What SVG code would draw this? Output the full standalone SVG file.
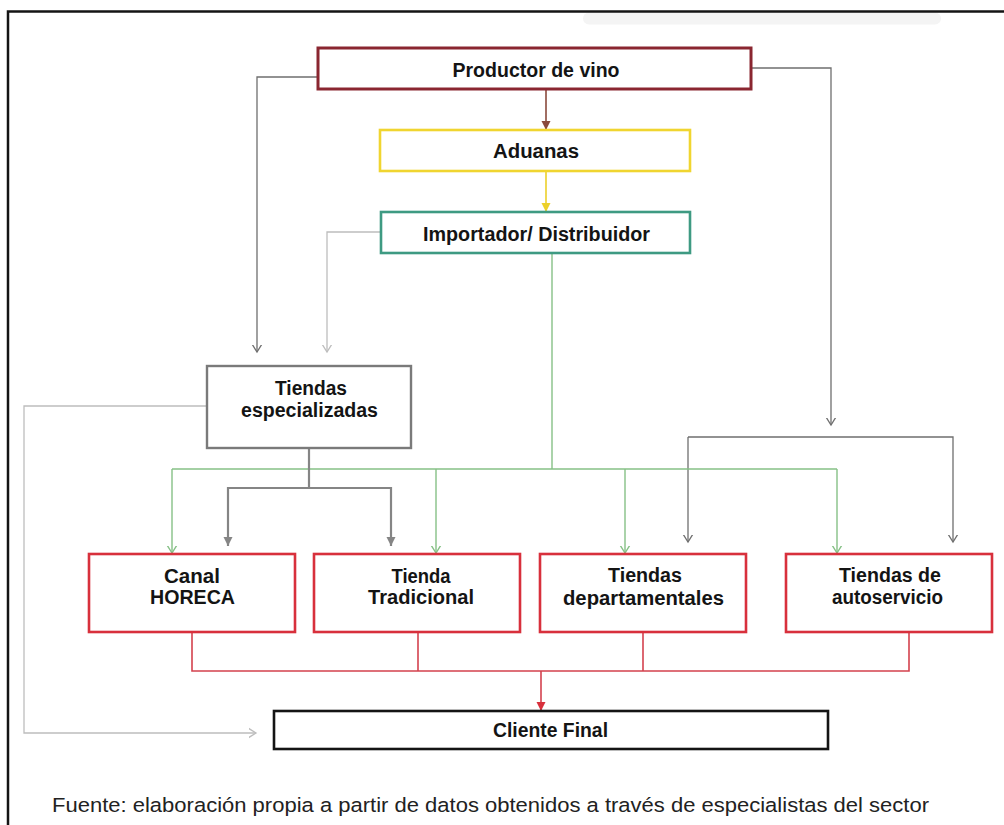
<svg xmlns="http://www.w3.org/2000/svg" width="1004" height="825" viewBox="0 0 1004 825">
<style>
.lbl{font-family:"Liberation Sans",Arial,sans-serif;font-weight:bold;font-size:20px;fill:#141414;text-anchor:middle}
.foot{font-family:"Liberation Sans",Arial,sans-serif;font-size:20.5px;fill:#222}
.box{fill:#fff}
.c{fill:none}
.gray{stroke:#6f6f6f;stroke-width:1.3}
.light{stroke:#bdbdbd;stroke-width:1.3}
.green{stroke:#86c086;stroke-width:1.4}
.red{stroke:#d4424e;stroke-width:1.6}
.thick{stroke:#858585;stroke-width:2.2}
</style>
<defs>
<marker id="oGray" markerUnits="userSpaceOnUse" markerWidth="14" markerHeight="14" viewBox="-7 -7 14 14" refX="0" refY="0" orient="auto"><path d="M-8,-5 L0,0 L-8,5" fill="none" stroke="#6f6f6f" stroke-width="1.3"/></marker>
<marker id="oLight" markerUnits="userSpaceOnUse" markerWidth="14" markerHeight="14" viewBox="-7 -7 14 14" refX="0" refY="0" orient="auto"><path d="M-8,-5 L0,0 L-8,5" fill="none" stroke="#bdbdbd" stroke-width="1.3"/></marker>
<marker id="oGreen" markerUnits="userSpaceOnUse" markerWidth="14" markerHeight="14" viewBox="-7 -7 14 14" refX="0" refY="0" orient="auto"><path d="M-8,-5 L0,0 L-8,5" fill="none" stroke="#86c086" stroke-width="1.4"/></marker>
<marker id="fGray" markerUnits="userSpaceOnUse" markerWidth="14" markerHeight="14" viewBox="-10 -7 14 14" refX="0" refY="0" orient="auto-start-reverse"><path d="M-9,-4.5 L0,0 L-9,4.5 Z" fill="#858585"/></marker>
<marker id="fBrown" markerUnits="userSpaceOnUse" markerWidth="14" markerHeight="14" viewBox="-10 -7 14 14" refX="0" refY="0" orient="auto"><path d="M-9,-4.5 L0,0 L-9,4.5 Z" fill="#8a4a3c"/></marker>
<marker id="fYellow" markerUnits="userSpaceOnUse" markerWidth="14" markerHeight="14" viewBox="-10 -7 14 14" refX="0" refY="0" orient="auto"><path d="M-9,-4.5 L0,0 L-9,4.5 Z" fill="#ecd02a"/></marker>
<marker id="fRed" markerUnits="userSpaceOnUse" markerWidth="14" markerHeight="14" viewBox="-10 -7 14 14" refX="0" refY="0" orient="auto"><path d="M-9,-4.5 L0,0 L-9,4.5 Z" fill="#d8303c"/></marker>
</defs>
<rect width="1004" height="825" fill="#fff"/>
<rect x="583" y="12.5" width="358" height="12" rx="6" fill="#f4f4f4"/>
<path d="M8,825 V11.5 H1004" fill="none" stroke="#141414" stroke-width="2.5"/>

<g id="connectors">
<path class="c" d="M546,89 V130" stroke="#8a4a3c" stroke-width="1.6" marker-end="url(#fBrown)"/>
<path class="c" d="M546,171 V212" stroke="#ecd02a" stroke-width="1.6" marker-end="url(#fYellow)"/>
<path class="c gray" d="M318,77 H257 V352" marker-end="url(#oGray)"/>
<path class="c light" d="M381,232 H327 V352" marker-end="url(#oLight)"/>
<path class="c gray" d="M751,68 H831 V425" marker-end="url(#oGray)"/>
<path class="c gray" d="M688,437 H953 V542" marker-end="url(#oGray)"/>
<path class="c gray" d="M688,437 V542" marker-end="url(#oGray)"/>
<path class="c green" d="M552,253 V469"/>
<path class="c green" d="M172,469 H837"/>
<path class="c green" d="M172,469 V553" marker-end="url(#oGreen)"/>
<path class="c green" d="M436,469 V553" marker-end="url(#oGreen)"/>
<path class="c green" d="M625,469 V553" marker-end="url(#oGreen)"/>
<path class="c green" d="M837,469 V553" marker-end="url(#oGreen)"/>
<path class="c thick" d="M309,448 V488"/>
<path class="c thick" d="M228,546 V488 H391 V546" marker-start="url(#fGray)" marker-end="url(#fGray)"/>
<path class="c light" d="M207,406 H24 V733 H256" marker-end="url(#oLight)"/>
<path class="c red" d="M192,633 V671 H909 V633"/>
<path class="c red" d="M418,633 V671"/>
<path class="c red" d="M643,633 V671"/>
<path class="c red" d="M541,671 V711" marker-end="url(#fRed)"/>
</g>

<g id="productor">
<rect class="box" x="318" y="48" width="433" height="41" stroke="#8a2630" stroke-width="3"/>
<text class="lbl" x="536" y="76.5" textLength="167" lengthAdjust="spacingAndGlyphs">Productor de vino</text>
</g>
<g id="aduanas">
<rect class="box" x="380" y="130" width="310" height="41" stroke="#f0d530" stroke-width="2.6"/>
<text class="lbl" x="536" y="158" textLength="86" lengthAdjust="spacingAndGlyphs">Aduanas</text>
</g>
<g id="importador">
<rect class="box" x="381" y="212" width="309" height="41" stroke="#3e9a82" stroke-width="2.6"/>
<text class="lbl" x="536.5" y="241" textLength="227" lengthAdjust="spacingAndGlyphs">Importador/ Distribuidor</text>
</g>
<g id="tiendas_especializadas">
<rect class="box" x="207" y="366" width="204" height="82" stroke="#7a7a7a" stroke-width="2.4"/>
<text class="lbl" x="311" y="395" textLength="72" lengthAdjust="spacingAndGlyphs">Tiendas</text>
<text class="lbl" x="309.5" y="417" textLength="137" lengthAdjust="spacingAndGlyphs">especializadas</text>
</g>
<g id="canal_horeca">
<rect class="box" x="89" y="554" width="206" height="78" stroke="#d8303c" stroke-width="2.6"/>
<text class="lbl" x="192" y="583" textLength="56" lengthAdjust="spacingAndGlyphs">Canal</text>
<text class="lbl" x="192.5" y="604" textLength="85" lengthAdjust="spacingAndGlyphs">HORECA</text>
</g>
<g id="tienda_tradicional">
<rect class="box" x="314" y="554" width="206" height="78" stroke="#d8303c" stroke-width="2.6"/>
<text class="lbl" x="421" y="583" textLength="59" lengthAdjust="spacingAndGlyphs">Tienda</text>
<text class="lbl" x="421" y="604" textLength="106" lengthAdjust="spacingAndGlyphs">Tradicional</text>
</g>
<g id="tiendas_departamentales">
<rect class="box" x="540" y="554" width="206" height="78" stroke="#d8303c" stroke-width="2.6"/>
<text class="lbl" x="645" y="582" textLength="74" lengthAdjust="spacingAndGlyphs">Tiendas</text>
<text class="lbl" x="643.5" y="605" textLength="161" lengthAdjust="spacingAndGlyphs">departamentales</text>
</g>
<g id="tiendas_autoservicio">
<rect class="box" x="786" y="554" width="206" height="78" stroke="#d8303c" stroke-width="2.6"/>
<text class="lbl" x="890" y="582" textLength="102" lengthAdjust="spacingAndGlyphs">Tiendas de</text>
<text class="lbl" x="887.5" y="604" textLength="111" lengthAdjust="spacingAndGlyphs">autoservicio</text>
</g>
<g id="cliente_final">
<rect class="box" x="274" y="711" width="554" height="38" stroke="#141414" stroke-width="2.6"/>
<text class="lbl" x="550.5" y="737" textLength="115" lengthAdjust="spacingAndGlyphs">Cliente Final</text>
</g>

<text class="foot" x="52" y="812" textLength="877" lengthAdjust="spacingAndGlyphs">Fuente: elaboración propia a partir de datos obtenidos a través de especialistas del sector</text>
</svg>
